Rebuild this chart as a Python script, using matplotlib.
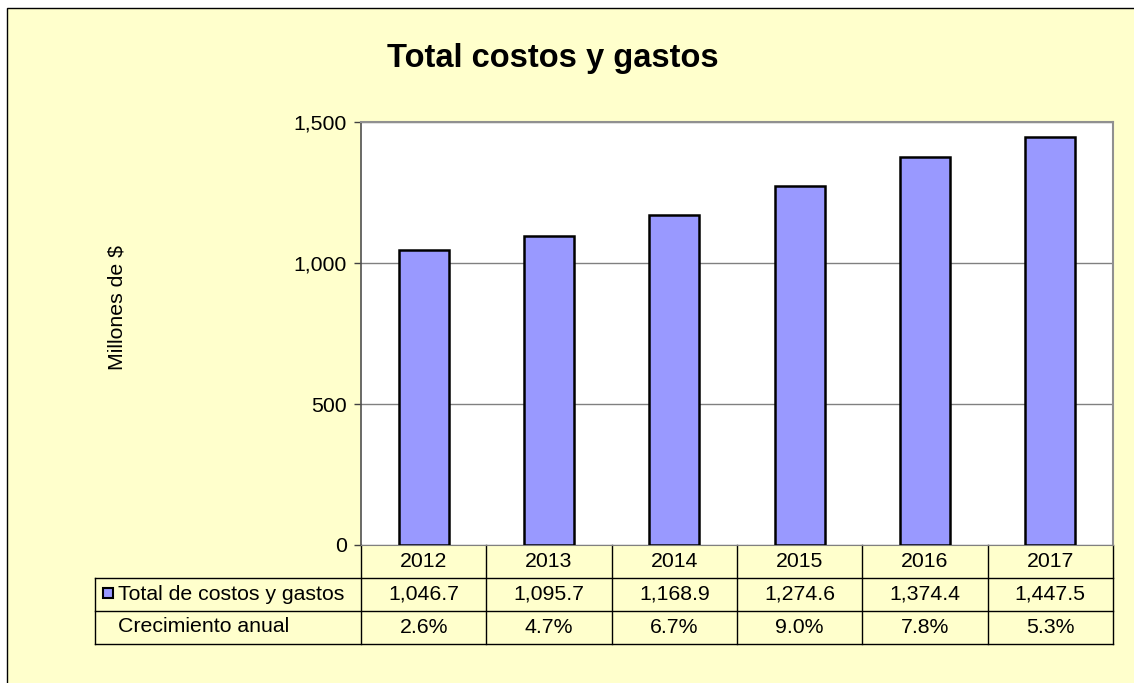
import matplotlib
matplotlib.use("Agg")
import matplotlib.pyplot as plt
from matplotlib.patches import Rectangle
from matplotlib.lines import Line2D
import matplotlib.transforms as mtransforms

plt.rcParams['font.family'] = ['Liberation Sans', 'DejaVu Sans']

years = ['2012', '2013', '2014', '2015', '2016', '2017']
totals = [1046.7, 1095.7, 1168.9, 1274.6, 1374.4, 1447.5]
growth = ['2.6%', '4.7%', '6.7%', '9.0%', '7.8%', '5.3%']
series_name = 'Total de costos y gastos'
growth_name = 'Crecimiento anual'
yticks = [0, 500, 1000, 1500]
ytick_labels = ['0', '500', '1,000', '1,500']

W, H = 1134, 683
fig = plt.figure(figsize=(W / 100, H / 100), dpi=100)
fig.patch.set_facecolor('white')

fs = 15.3

# chart area background with black border (extends past the image right/bottom)
fig.patches.append(Rectangle((7 / W, -0.05), 1.1, 1 - 8 / H + 0.05, transform=fig.transFigure,
                             facecolor='#FFFFCC', edgecolor='black', linewidth=1.0, zorder=-5))

ax = fig.add_axes([361 / W, 1 - 545 / H, (1113 - 361) / W, (545 - 122) / H])
ax.set_zorder(2)
ax.set_facecolor('white')
x = list(range(len(years)))
ax.bar(x, totals, width=0.4, color='#9999FF', edgecolor='black', linewidth=1.8, zorder=3)
ax.set_xlim(-0.5, len(years) - 0.5)
ax.set_ylim(0, 1500)
ax.set_yticks(yticks)
ax.set_yticklabels(ytick_labels, fontsize=fs)
ax.set_xticks([])
ax.tick_params(axis='y', direction='out', length=5, width=1, color='#404040', pad=5)
ax.grid(axis='y', color='#808080', linewidth=1, zorder=1)
for s in ['top', 'right']:
    ax.spines[s].set_color('#909090')
    ax.spines[s].set_linewidth(1.5)
ax.spines['left'].set_color('#505050')
ax.spines['bottom'].set_color('#808080')
ax.spines['left'].set_linewidth(1.2)

fig.text(117 / W, 1 - 307 / H, 'Millones de $', fontsize=fs, rotation=90,
         ha='center', va='center')

fig.text(553 / W, 1 - 58 / H, 'Total costos y gastos', fontsize=23.5, fontweight='bold',
         ha='center', va='center')

# data table drawn under the axes: x in data coords, y in axes fraction
trans = mtransforms.blended_transform_factory(ax.transData, ax.transAxes)
ah = 545 - 122
def yf(py):
    return (545 - py) / ah
x_left_tab = -0.5 + (95 - 361) / ((1113 - 361) / len(years))
r0, r1, r2, r3 = yf(545), yf(578), yf(611), yf(644)
lw = 1.0
lines = []
lines.append(([x_left_tab, len(years) - 0.5], [r1, r1]))
lines.append(([x_left_tab, len(years) - 0.5], [r2, r2]))
lines.append(([x_left_tab, len(years) - 0.5], [r3, r3]))
for k in range(len(years) + 1):
    lines.append(([k - 0.5, k - 0.5], [r0, r3]))
lines.append(([x_left_tab, x_left_tab], [r1, r3]))
for xs, ys in lines:
    ax.add_line(Line2D(xs, ys, transform=trans, color='black', linewidth=lw, clip_on=False))

for i, yr in enumerate(years):
    ax.text(i, (r0 + r1) / 2, yr, transform=trans, ha='center', va='center', fontsize=fs, clip_on=False)
    ax.text(i, (r1 + r2) / 2, f'{totals[i]:,.1f}', transform=trans, ha='center', va='center',
            fontsize=fs, clip_on=False)
    ax.text(i, (r2 + r3) / 2, growth[i], transform=trans, ha='center', va='center',
            fontsize=fs, clip_on=False)

# legend key in table
fig.patches.append(Rectangle((103 / W, 1 - 598 / H), 10 / W, 10 / H, transform=fig.transFigure,
                             facecolor='#9999FF', edgecolor='black', linewidth=1.5, zorder=5))
fig.text(118 / W, 1 - 594 / H, series_name, fontsize=fs, ha='left', va='center')
fig.text(118 / W, 1 - 627 / H, growth_name, fontsize=fs, ha='left', va='center')

fig.savefig('out.png', dpi=100, facecolor=fig.get_facecolor())
